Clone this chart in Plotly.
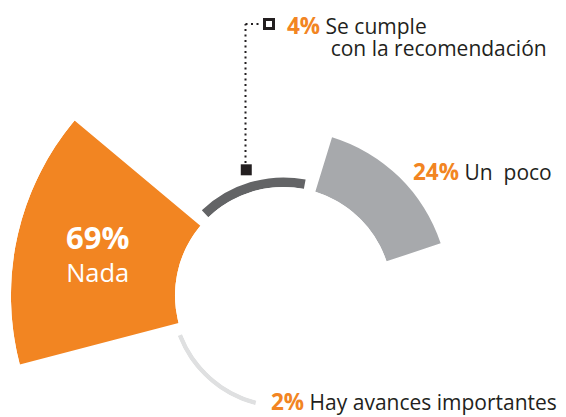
import math
import plotly.graph_objects as go

# Survey answers, clockwise from the lower-left
categories = ["Hay avances importantes", "Nada", "Se cumple con la recomendación", "Un poco"]
values = [2, 69, 4, 24]
colors = ["#DFE0E1", "#F28522", "#636466", "#A7A9AC"]
short_names = ["Hay avances importantes", "Nada", "Se cumple", "Un  poco"]

W, H = 566, 417
CX, CY = 283.5, 295.5        # ring centre, px from top-left
HOLE_PX = 108.5              # inner radius of the ring, px
PX_PER_PCT = 2.378           # radial growth per percentage point, px
START_DEG = 221.8            # compass angle of the first bar centre
STEP_DEG = 60.85             # spacing between bar centres
BAR_DEG = 54.6               # angular width of each bar

ORANGE = "#F28522"
INK = "#231F20"
FONT = "Open Sans"

theta = [START_DEG + i * STEP_DEG for i in range(len(values))]

# bars that live in the upper sector subplot vs. the small full-circle one
upper = [1, 2, 3]
lower = [0]
UPPER_SECTOR = [16, 198]     # geometric degrees, counter-clockwise from east


def sector_bbox(s0, s1):
    """Bounding box of a polar sector (unit radius, centre included)."""
    angs = [s0, s1] + [a for a in range(-360, 720, 90) if s0 < a < s1]
    xs = [0] + [math.cos(math.radians(a)) for a in angs]
    ys = [0] + [math.sin(math.radians(a)) for a in angs]
    return min(xs), min(ys), max(xs), max(ys)


def domain_for(radius_px, bbox):
    x0, y0, x1, y1 = bbox
    left, right = CX + radius_px * x0, CX + radius_px * x1
    top, bottom = CY - radius_px * y1, CY - radius_px * y0
    return dict(x=[left / W, right / W], y=[1 - bottom / H, 1 - top / H])


def polar_layout(vmax, bbox, sector=None):
    radius_px = HOLE_PX + vmax * PX_PER_PCT
    lay = dict(
        domain=domain_for(radius_px, bbox),
        hole=HOLE_PX / radius_px,
        bgcolor="rgba(0,0,0,0)",
        radialaxis=dict(range=[0, vmax], visible=False),
        angularaxis=dict(rotation=90, direction="clockwise", visible=False),
    )
    if sector:
        lay["sector"] = sector
    return lay


fig = go.Figure()
for idx, sub in ((upper, "polar"), (lower, "polar2")):
    fig.add_trace(go.Barpolar(
        r=[values[i] for i in idx], theta=[theta[i] for i in idx],
        width=[BAR_DEG] * len(idx),
        marker=dict(color=[colors[i] for i in idx], line=dict(width=0)),
        text=[categories[i] for i in idx], hoverinfo="text+r",
        subplot=sub,
    ))

# leader end-point sitting just outside the "Se cumple" arc
fig.add_trace(go.Scatterpolar(
    r=[values[2] + 5.5], theta=[theta[2]], mode="markers",
    marker=dict(symbol="square", size=11, color=INK, line=dict(width=0)),
    hoverinfo="skip", subplot="polar",
))

vmax_upper = max(values[i] for i in upper)
vmax_lower = max(values[i] for i in lower)


def px(x):
    return x / W


def py(y):
    return 1 - y / H


annotations = []


def label(text, x, y, size, color, xanchor="left", align="left"):
    annotations.append(dict(
        text=text, x=px(x), y=py(y), xref="paper", yref="paper",
        xanchor=xanchor, yanchor="middle", align=align, showarrow=False,
        font=dict(family=FONT, size=size, color=color),
    ))


def pct(v):
    return f"<b><span style='color:{ORANGE};font-size:22.5px'>{v}%</span></b>"


label(f"<span style='font-size:31px'><b>{values[1]}%</b></span><br>{short_names[1]}",
      97, 252, 25.5, "white", "center", "center")
label(f"{pct(values[3])} {short_names[3]}", 411, 171, 21, INK)
label(f"{pct(values[0])} {short_names[0]}", 269, 401.5, 21, INK)
label(f"<span style='font-size:21px'>{pct(values[2])} {short_names[2]}<br>"
      + "&nbsp;" * 8 + "con la recomendación</span>",
      285, 36, 17, INK)

dot = dict(color=INK, width=2, dash="2px,3.5px")
shapes = [
    # dotted leader from the arc up to the open square
    dict(type="line", xref="paper", yref="paper",
         x0=px(245.5), y0=py(163), x1=px(245.5), y1=py(24), line=dot),
    dict(type="line", xref="paper", yref="paper",
         x0=px(245.5), y0=py(24), x1=px(262), y1=py(24), line=dot),
    dict(type="rect", xref="paper", yref="paper",
         x0=px(264.5), y0=py(19.5), x1=px(273.5), y1=py(28.5),
         line=dict(color=INK, width=3), fillcolor="white"),
]

fig.update_layout(
    width=W, height=H,
    margin=dict(l=0, r=0, t=0, b=0),
    paper_bgcolor="white", plot_bgcolor="white",
    showlegend=False,
    polar=polar_layout(vmax_upper, sector_bbox(*UPPER_SECTOR), UPPER_SECTOR),
    polar2=polar_layout(vmax_lower, (-1, -1, 1, 1)),
    annotations=annotations,
    shapes=shapes,
)

fig.write_html("out.html")
